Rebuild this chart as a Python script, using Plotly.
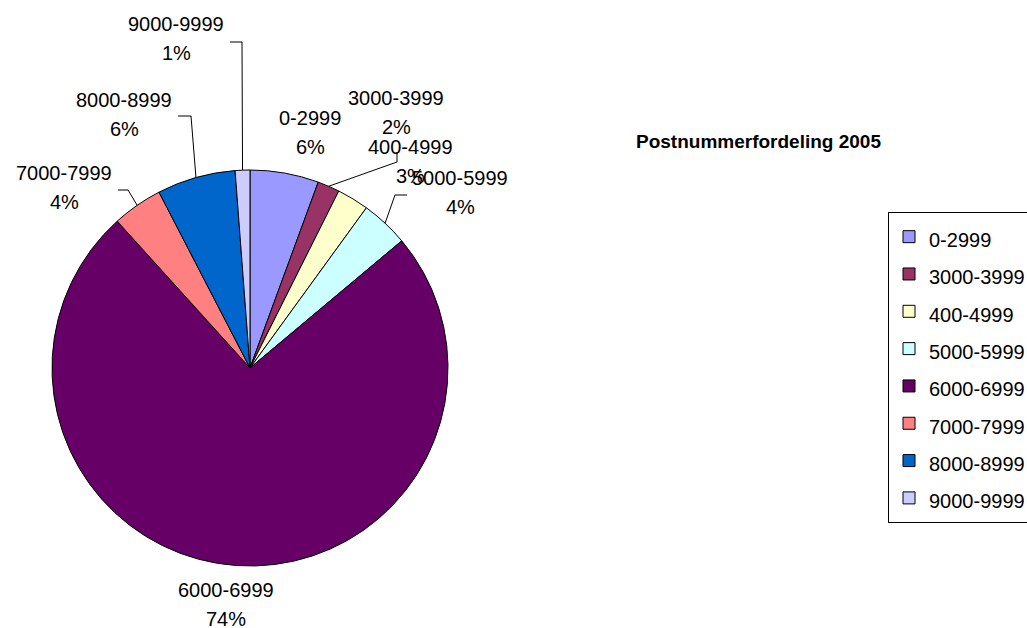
import math
import plotly.graph_objects as go

# ---------------- data ----------------
categories = ["0-2999", "3000-3999", "400-4999", "5000-5999",
              "6000-6999", "7000-7999", "8000-8999", "9000-9999"]
shares = [5.6, 1.8, 2.6, 3.9, 74.4, 4.1, 6.4, 1.2]
colors = ["#9999FF", "#993366", "#FFFFCC", "#CCFFFF",
          "#660066", "#FF8080", "#0066CC", "#CCCCFF"]
chart_title = "Postnummerfordeling 2005"

# ---------------- layout constants (pixels) ----------------
W, H = 1027, 628
CX, CY, R = 250, 368, 198
FONT = "Liberation Sans, Arial, sans-serif"

# label name-line centres
label_pos = {
    "0-2999": (310, 118),
    "3000-3999": (396, 98),
    "400-4999": (410, 147),
    "5000-5999": (460, 178),
    "6000-6999": (226, 590),
    "7000-7999": (64, 173),
    "8000-8999": (124, 100),
    "9000-9999": (176, 24),
}
LINE_GAP = 29
# leader line elbows: (elbow point, end point)
leaders = {
    "3000-3999": ((397, 162), (397, 152)),
    "5000-5999": ((395, 195), (407, 195)),
    "7000-7999": ((128, 190), (118, 190)),
    "8000-8999": ((191, 116), (178, 116)),
    "9000-9999": ((242, 42), (230, 42)),
}


def px(x):
    return x / W


def py(y):
    return 1 - y / H


total = sum(shares)

fig = go.Figure()
fig.add_trace(go.Pie(
    labels=[f'<span style="font-size:20px">{c}</span>' for c in categories],
    values=shares,
    marker=dict(colors=colors, line=dict(color="black", width=1)),
    sort=False,
    direction="clockwise",
    rotation=0,
    textinfo="none",
    hoverinfo="label+percent",
    domain=dict(x=[px(CX - R), px(CX + R)], y=[py(CY + R), py(CY - R)]),
    showlegend=True,
))

annotations = []
shapes = []
cum = 0.0
for cat, v in zip(categories, shares):
    mid = (cum + v / 2) / total * 2 * math.pi
    cum += v
    rx = CX + R * math.sin(mid)
    ry = CY - R * math.cos(mid)
    lx, ly = label_pos[cat]
    pct = f"{round(v / total * 100)}%"
    annotations.append(dict(x=px(lx), y=py(ly), xref="paper", yref="paper",
                            text=cat, showarrow=False, xanchor="center", yanchor="middle",
                            font=dict(family=FONT, size=20, color="black")))
    annotations.append(dict(x=px(lx), y=py(ly + LINE_GAP), xref="paper", yref="paper",
                            text=pct, showarrow=False, xanchor="center", yanchor="middle",
                            font=dict(family=FONT, size=20, color="black")))
    if cat in leaders:
        (ex, ey), (fx, fy) = leaders[cat]
        path = (f"M {px(rx)},{py(ry)} L {px(ex)},{py(ey)} L {px(fx)},{py(fy)}")
        shapes.append(dict(type="path", xref="paper", yref="paper", path=path,
                           line=dict(color="black", width=1)))

annotations.append(dict(x=px(758), y=py(141), xref="paper", yref="paper",
                        text=f"<b>{chart_title}</b>", showarrow=False,
                        xanchor="center", yanchor="middle",
                        font=dict(family=FONT, size=19, color="black")))

fig.update_layout(
    width=W, height=H,
    margin=dict(l=0, r=0, t=0, b=0, autoexpand=False),
    paper_bgcolor="white",
    plot_bgcolor="white",
    font=dict(family=FONT, color="black"),
    annotations=annotations,
    shapes=shapes,
    legend=dict(
        x=px(888), y=py(212), xanchor="left", yanchor="top",
        bgcolor="white", bordercolor="black", borderwidth=1,
        font=dict(family=FONT, size=26.4, color="black"),
        itemwidth=30,
    ),
)

fig.write_html("out.html",
               config={"displayModeBar": False},
               post_script="document.body.style.margin='0';document.body.style.padding='0';")
